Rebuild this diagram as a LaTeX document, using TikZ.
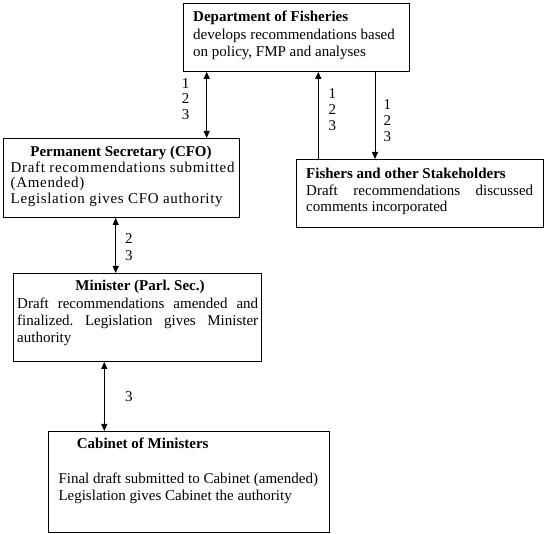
\documentclass[tikz,border=0pt]{standalone}
\usepackage{fontspec}
\setmainfont{Liberation Serif}
\usetikzlibrary{arrows.meta}
\hyphenpenalty=10000
\exhyphenpenalty=10000
\tolerance=10000
\frenchspacing
\begin{document}
\begin{tikzpicture}[x=1pt,y=-1pt,
  box/.style={draw, line width=0.9pt, rectangle, inner sep=0pt, anchor=north west},
  ttl/.style={inner sep=0pt, font=\fontsize{15}{17}\selectfont\bfseries},
  txt/.style={inner sep=0pt, anchor=north west, align=left},
  lbl/.style={inner sep=0pt, anchor=north west, align=left},
  link/.style={line width=0.9pt, {Triangle[length=7pt,width=6pt]}-{Triangle[length=7pt,width=6pt]}},
  linkto/.style={line width=0.9pt, -{Triangle[length=7pt,width=6pt]}},
]
\useasboundingbox (0,0) rectangle (547,534);

% boxes
\node[box, minimum width=226pt, minimum height=68pt] (dept) at (183,3) {};
\node[box, minimum width=236pt, minimum height=79pt] (ps) at (3,138) {};
\node[box, minimum width=247pt, minimum height=68pt] (fish) at (296,159) {};
\node[box, minimum width=248pt, minimum height=88pt] (min) at (13,273) {};
\node[box, minimum width=281pt, minimum height=101pt] (cab) at (48,431) {};

% texts
\node[ttl, anchor=base west] (deptT) at (193,21.7) {Department of Fisheries};
\node[txt, font=\fontsize{15}{17.4}\selectfont] (deptB) at (193,28.8)
  {develops recommendations based\\on policy, FMP and analyses};

\node[ttl, anchor=base] (psT) at (121,156.7) {Permanent Secretary (CFO)};
\node[txt, font=\fontsize{15}{15.4}\selectfont\addfontfeature{LetterSpace=4.5}] (psB) at (10.5,161.5)
  {Draft recommendations submitted\\(Amended)\\Legislation gives CFO authority};

\node[ttl, anchor=base west] (fishT) at (306,178.3) {Fishers and other Stakeholders};
\node[txt, align=justify, text width=227pt, font=\fontsize{15}{15.7}\selectfont] (fishB) at (306,184.8)
  {Draft recommendations discussed comments incorporated};

\node[ttl, anchor=base] (minT) at (140,291) {Minister (Parl. Sec.)};
\node[txt, align=justify, text width=241pt, font=\fontsize{15}{16.7}\selectfont] (minB) at (17,298.1)
  {Draft recommendations amended and finalized. Legislation gives Minister authority};

\node[ttl, anchor=base west] (cabT) at (76.7,448.3) {Cabinet of Ministers};
\node[txt, font=\fontsize{15}{16.7}\selectfont] (cabB) at (58.3,473.1)
  {Final draft submitted to Cabinet (amended)\\Legislation gives Cabinet the authority};

% connector positions
\coordinate (x1) at (206.7,0);
\coordinate (x2) at (318.3,0);
\coordinate (x3) at (375,0);
\coordinate (x4) at (115.7,0);
\coordinate (x5) at (104.3,0);

\draw[link] (x1 |- dept.south) -- (x1 |- ps.north);
\draw[linkto] (x2 |- fish.north) -- (x2 |- dept.south);
\draw[linkto] (x3 |- dept.south) -- (x3 |- fish.north);
\draw[link] (x4 |- ps.south) -- (x4 |- min.north);
\draw[link] (x5 |- min.south) -- (x5 |- cab.north);

% labels
\node[lbl, font=\fontsize{15}{15.5}\selectfont] (l1) at (181.7,78.2) {1\\2\\3};
\node[lbl, font=\fontsize{15}{16.2}\selectfont] (l2) at (328.3,88.2) {1\\2\\3};
\node[lbl, font=\fontsize{15}{15.85}\selectfont] (l3) at (383.3,99.9) {1\\2\\3};
\node[lbl, font=\fontsize{15}{16.7}\selectfont] (l4) at (125,233.2) {2\\3};
\node[inner sep=0pt, anchor=base west, font=\fontsize{15}{16}\selectfont] (l5) at (125,401.7) {3};
\end{tikzpicture}
\end{document}
